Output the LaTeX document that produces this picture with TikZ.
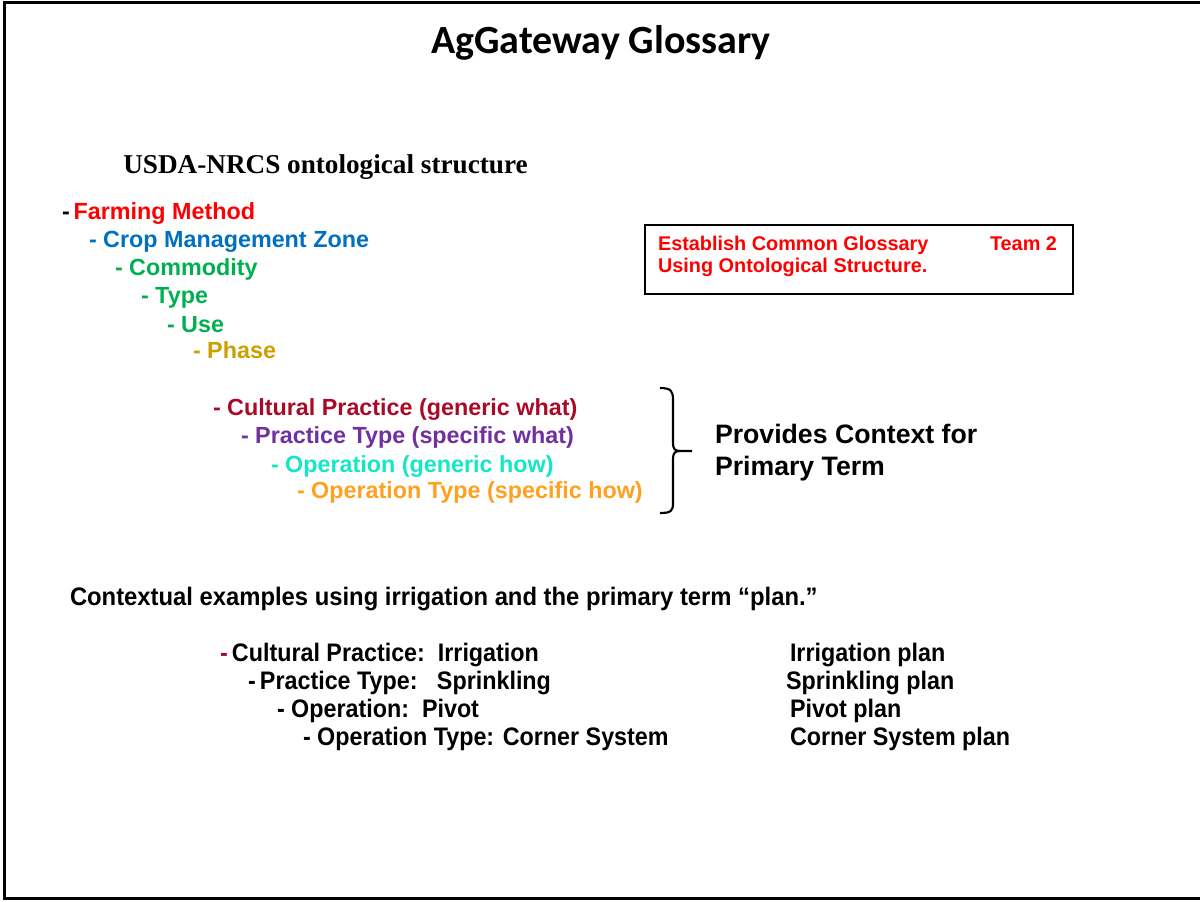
\documentclass[tikz,border=0pt]{standalone}
\usepackage{fontspec}
\setmainfont{Liberation Sans}
\newfontfamily\titlefont{Carlito}
\newfontfamily\serifhead{Liberation Serif}
\newfontfamily\narrowhead[FakeStretch=0.94]{Liberation Sans}
\newfontfamily\narrowfont[FakeStretch=0.92]{Liberation Sans}
\definecolor{cRed}{RGB}{255,0,0}
\definecolor{cBlue}{RGB}{0,112,192}
\definecolor{cGreen}{RGB}{0,176,80}
\definecolor{cGold}{RGB}{204,160,0}
\definecolor{cDarkRed}{RGB}{170,10,40}
\definecolor{cPurple}{RGB}{112,48,160}
\definecolor{cCyan}{RGB}{20,230,200}
\definecolor{cOrange}{RGB}{255,160,30}
\tikzset{
  txt/.style={inner sep=0pt, outer sep=0pt, anchor=base west, font=\bfseries\fontsize{17.5}{20}\selectfont},
  boxtxt/.style={inner sep=0pt, outer sep=0pt, anchor=base west, text=cRed, font=\bfseries\fontsize{14.9}{18}\selectfont},
  ctxtxt/.style={inner sep=0pt, outer sep=0pt, anchor=base west, font=\narrowfont\bfseries\fontsize{19}{22}\selectfont},
  bigtxt/.style={inner sep=0pt, outer sep=0pt, anchor=base west, font=\bfseries\fontsize{20}{24}\selectfont},
  frameline/.style={line width=2.25pt},
}
\begin{document}
\begin{tikzpicture}[x=0.75pt,y=-0.75pt]
\useasboundingbox (0,0) rectangle (1200,901);
% outer frame (right edge outside the picture)
\draw[frameline] (1201,2) -- (4,2) -- (4,898) -- (1201,898);
% title
\node[inner sep=0pt, anchor=base, font=\titlefont\bfseries\fontsize{30}{34}\selectfont] (title) at (601,53) {AgGateway Glossary};
% heading
\node[inner sep=0pt, anchor=base west, font=\serifhead\bfseries\fontsize{20.4}{24}\selectfont] (usda) at (123,173) {USDA-NRCS ontological structure};
% hierarchy
\node[txt] (fm) at (62,219) {-\,\textcolor{cRed}{Farming Method}};
\node[txt, text=cBlue] (cmz) at (89,247) {- Crop Management Zone};
\node[txt, text=cGreen] (com) at (115,275) {- Commodity};
\node[txt, text=cGreen] (typ) at (141,303) {- Type};
\node[txt, text=cGreen] (use) at (167,332) {- Use};
\node[txt, text=cGold] (pha) at (193,358) {- Phase};
\node[txt, text=cDarkRed] (cp) at (213,415) {- Cultural Practice (generic what)};
\node[txt, text=cPurple] (pt) at (241,443) {- Practice Type (specific what)};
\node[txt, text=cCyan] (op) at (271,472) {- Operation (generic how)};
\node[txt, text=cOrange] (ot) at (297,498) {- Operation Type (specific how)};
% brace
\draw[line width=1.6pt] (660,388) .. controls (671,388) and (673,391) .. (673,400) -- (673,443)
  .. controls (673,449) and (675,451) .. (680,451) -- (692,451);
\draw[line width=1.6pt] (680,451) .. controls (675,451) and (673,453) .. (673,459) -- (673,503)
  .. controls (673,511) and (671,513) .. (660,513);
\node[bigtxt] (ctx1) at (715,443) {Provides Context for};
\node[bigtxt] (ctx2) at (715,475) {Primary Term};
% box
\draw[line width=1.5pt] (645,225) rectangle (1073,294);
\node[boxtxt] (b1) at (658,250) {Establish Common Glossary};
\node[boxtxt, anchor=base east] (b2) at (1057,250) {Team 2};
\node[boxtxt] (b3) at (658,272) {Using Ontological Structure.};
% examples
\node[ctxtxt, font=\narrowhead\bfseries\fontsize{19}{22}\selectfont] (ex) at (70,605) {Contextual examples using irrigation and the primary term “plan.”};
\node[ctxtxt] (e1) at (220,661) {\textcolor{cDarkRed}{-}\,Cultural Practice:\ \ Irrigation};
\node[ctxtxt] (e2) at (248,689) {-\,Practice Type:\ \ \ Sprinkling};
\node[ctxtxt] (e3) at (277,717) {- Operation:\ \ Pivot};
\node[ctxtxt] (e4) at (303,745) {- Operation Type: Corner System};
\node[ctxtxt] (r1) at (790,661) {Irrigation plan};
\node[ctxtxt] (r2) at (786,689) {Sprinkling plan};
\node[ctxtxt] (r3) at (790,717) {Pivot plan};
\node[ctxtxt] (r4) at (790,745) {Corner System plan};
\end{tikzpicture}
\end{document}
